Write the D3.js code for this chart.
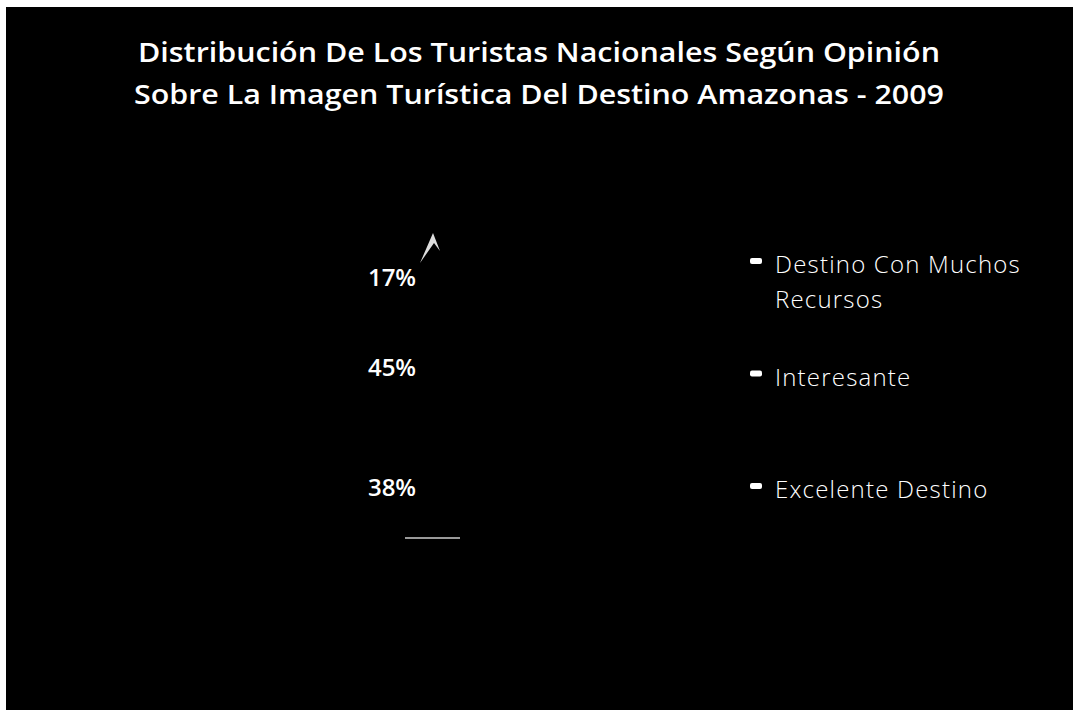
<!DOCTYPE html>
<html>
<head>
<meta charset="utf-8">
<script src="https://cdn.jsdelivr.net/npm/d3@7"></script>
<style>
  html, body { margin: 0; padding: 0; background: #fff; }
  svg { display: block; }
</style>
</head>
<body>
<div id="area"></div>
<script>
let width = 1073
let height = 710

let title_lines = [
  'Distribución De Los Turistas Nacionales Según Opinión',
  'Sobre La Imagen Turística Del Destino Amazonas - 2009'
]
let categories = ['Destino Con Muchos Recursos', 'Interesante', 'Excelente Destino']
let values = [17, 45, 38]

let bg_color = '#000000'
let text_color = '#ffffff'
let font = '"Open Sans", "Noto Sans", sans-serif'

let svg = d3.select('#area').append('svg')
  .attr('width', width)
  .attr('height', height)

// dark panel (slight white margin top/left like the scan)
svg.append('rect')
  .attr('x', 6).attr('y', 7)
  .attr('width', width - 6).attr('height', height - 7)
  .attr('fill', bg_color)

// title
let title = svg.append('g')
title.selectAll('text')
  .data(title_lines)
  .join('text')
  .attr('x', 539)
  .attr('y', (d, i) => 62 + i * 42)
  .attr('text-anchor', 'middle')
  .attr('fill', text_color)
  .attr('font-family', font)
  .attr('font-weight', 600)
  .attr('font-size', 27)
  .attr('textLength', (d, i) => i == 0 ? 802 : 810)
  .attr('lengthAdjust', 'spacingAndGlyphs')
  .text(d => d)

// stacked column (black on black, only the labels show)
let rows = []
let acc = 0
values.forEach(function(v, i) {
  rows.push({cat: categories[i], value: v, y0: acc, y1: acc + v})
  acc += v
})

let y = d3.scaleLinear().domain([0, d3.sum(values)]).range([253, 542])
let col_x = 324
let col_w = 136

svg.append('g').selectAll('rect')
  .data(rows)
  .join('rect')
  .attr('x', col_x)
  .attr('width', col_w)
  .attr('y', d => y(d.y0))
  .attr('height', d => y(d.y1) - y(d.y0))
  .attr('fill', bg_color)
  .attr('stroke', 'none')

svg.append('g').selectAll('text')
  .data(rows)
  .join('text')
  .attr('x', col_x + col_w / 2)
  .attr('y', d => y((d.y0 + d.y1) / 2))
  .attr('dy', '0.36em')
  .attr('text-anchor', 'middle')
  .attr('fill', text_color)
  .attr('font-family', font)
  .attr('font-weight', 600)
  .attr('font-size', 24)
  .text(d => d.value + '%')

// scan leftovers: tiny pointer at top and faint base line
svg.append('path')
  .attr('d', 'M420,263 L433,233 L440,251 L434,243 Z')
  .attr('fill', '#ddd')
svg.append('line')
  .attr('x1', 405).attr('x2', 460)
  .attr('y1', 538).attr('y2', 538)
  .attr('stroke', '#ccc')
  .attr('stroke-width', 1.5)

// legend
let ly = d3.scalePoint().domain(categories).range([273, 498])
let legend = svg.append('g')
  .attr('font-family', font)
  .attr('font-weight', 300)
  .attr('font-size', 24)
  .attr('letter-spacing', 1.2)
  .attr('fill', text_color)

let max_line = 262
categories.forEach(function(c) {
  let g = legend.append('g')
  g.append('rect')
    .attr('x', 750).attr('y', ly(c) - 15)
    .attr('width', 12).attr('height', 6)
    .attr('rx', 2)
    .attr('fill', text_color)
  let t = g.append('text').attr('x', 775).attr('y', ly(c))
  let words = c.split(' ')
  let line = []
  let tspan = t.append('tspan').attr('x', 775).attr('dy', 0)
  words.forEach(function(w) {
    line.push(w)
    tspan.text(line.join(' '))
    if (tspan.node().getComputedTextLength() > max_line && line.length > 1) {
      line.pop()
      tspan.text(line.join(' '))
      line = [w]
      tspan = t.append('tspan').attr('x', 775).attr('dy', 35).text(w)
    }
  })
})
</script>
</body>
</html>
